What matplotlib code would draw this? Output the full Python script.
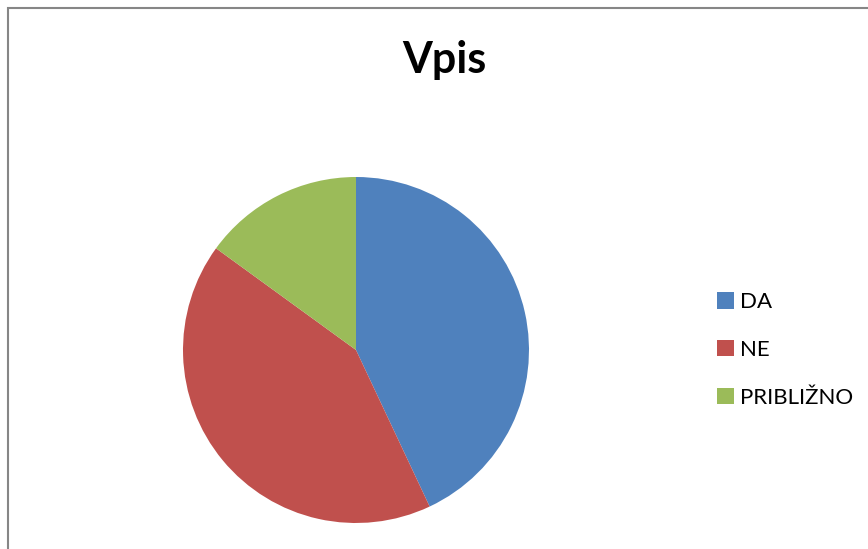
import matplotlib.pyplot as plt
from matplotlib.patches import Rectangle

labels = ["DA", "NE", "PRIBLIŽNO"]
values = [43, 42, 15]
colors = ["#4F81BD", "#C0504D", "#9BBB59"]

plt.rcParams["font.family"] = ["Lato", "DejaVu Sans"]

fig = plt.figure(figsize=(8.68, 5.49), dpi=100)

# okraj grafu (pokracuje za pravy a dolni okraj obrazku)
fig.patches.append(Rectangle((8 / 868, -0.1), 1.2, (549 - 8) / 549 + 0.1,
                             transform=fig.transFigure, fill=False,
                             edgecolor="#868686", linewidth=1.5))

ax = fig.add_axes([183 / 868, 26 / 549, 346 / 868, 346 / 549])
wedges, _ = ax.pie(values, colors=colors, startangle=90, counterclock=False,
                   wedgeprops=dict(linewidth=0))
ax.set_xlim(-1, 1)
ax.set_ylim(-1, 1)
ax.set_aspect("equal")

fig.text(444 / 868, 1 - 60 / 549, "Vpis", ha="center", va="center",
         fontsize=31, fontweight="bold")

fig.legend(wedges, labels, loc="center left", bbox_to_anchor=(697 / 868, 1 - 350 / 549),
           frameon=False, fontsize=16, handlelength=0.75, handleheight=0.75,
           handletextpad=0.3, labelspacing=1.25)

fig.savefig("out.png", dpi=100)
